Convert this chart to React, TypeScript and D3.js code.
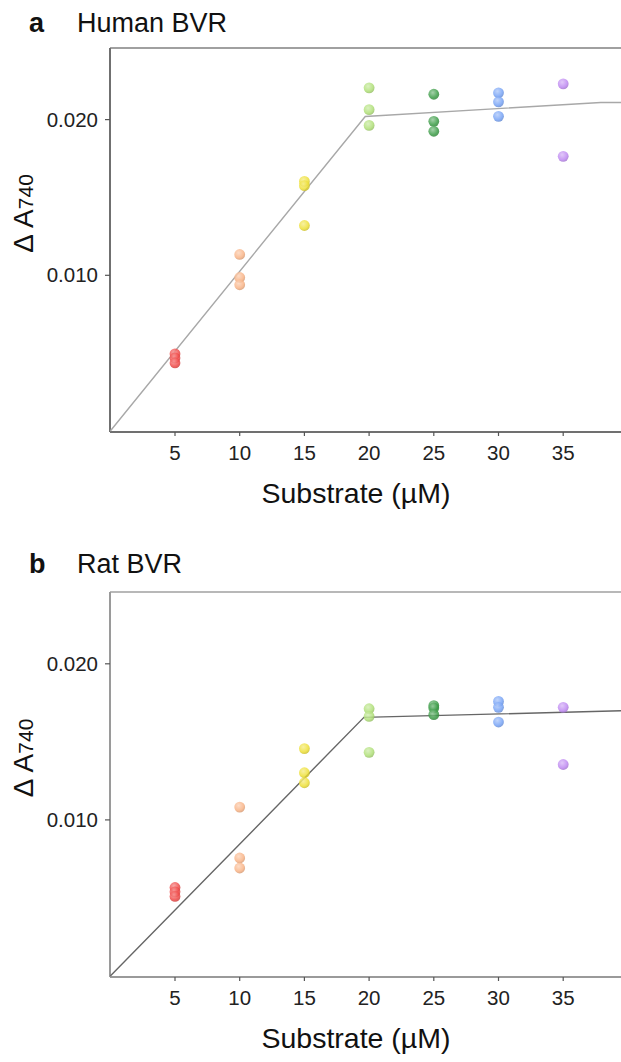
import React from "react";
import * as d3 from "d3";

const substrate = [5, 10, 15, 20, 25, 30, 35];
const xTicks = [5, 10, 15, 20, 25, 30, 35];
const yTicks = [0.01, 0.02];
const dotColors = ["#f04a48", "#f9b487", "#eee038", "#b0e078", "#3d9d48", "#78a4f6", "#bf8af2"];

const humanValues = [
  [0.00495, 0.00469, 0.00437],
  [0.01134, 0.00986, 0.00939],
  [0.01603, 0.01576, 0.0132],
  [0.02204, 0.02064, 0.01963],
  [0.02163, 0.01989, 0.01925],
  [0.02172, 0.02114, 0.02021],
  [0.0223, 0.01764],
];
const ratValues = [
  [0.00567, 0.00539, 0.0051],
  [0.01082, 0.00756, 0.00692],
  [0.01457, 0.01302, 0.01238],
  [0.01712, 0.01663, 0.01433],
  [0.01732, 0.01717, 0.01674],
  [0.01759, 0.01721, 0.01627],
  [0.01721, 0.01355],
];
const humanFit: [number, number][] = [[0, 0], [19.7, 0.0202], [37.9, 0.0211], [40, 0.0211]];
const ratFit: [number, number][] = [[0, 0], [19.6, 0.01657], [40, 0.017]];

const FONT = "'Liberation Sans', Arial, Helvetica, sans-serif";

type PanelProps = {
  letter: string;
  title: string;
  values: number[][];
  fit: [number, number][];
  top: number;
  bottom: number;
  titleY: number;
  lineColor: string;
  frameColor: string;
  topColor: string;
};

function Panel({ letter, title, values, fit, top, bottom, titleY, lineColor, frameColor, topColor }: PanelProps) {
  const x = d3.scaleLinear().domain([0, 40]).range([110.3, 110.3 + 40 * 12.94]);
  const y = d3.scaleLinear().domain([0, 0.0246]).range([bottom, top]);
  const line = d3
    .line<[number, number]>()
    .x((d) => x(d[0]))
    .y((d) => y(d[1]));
  const left = 110;
  const axisY = bottom + 1;
  const midY = (top + bottom) / 2;
  return (
    <g>
      <text x={29} y={titleY} fontFamily={FONT} fontWeight="bold" fontSize={27} fill="#111">
        {letter}
      </text>
      <text x={77} y={titleY} fontFamily={FONT} fontSize={27} fill="#111">
        {title}
      </text>
      <line x1={left} x2={640} y1={top} y2={top} stroke={topColor} strokeWidth={1.6} />
      <line x1={left} x2={left} y1={top} y2={axisY} stroke={frameColor} strokeWidth={2} />
      <line x1={left} x2={640} y1={axisY} y2={axisY} stroke={frameColor} strokeWidth={2} />
      {yTicks.map((t) => (
        <g key={t}>
          <line x1={left - 5} x2={left} y1={y(t)} y2={y(t)} stroke="#555" strokeWidth={1.2} />
          <text x={98} y={y(t) + 7} textAnchor="end" fontFamily={FONT} fontSize={20.5} fill="#222">
            {d3.format(".3f")(t)}
          </text>
        </g>
      ))}
      {xTicks.map((t) => (
        <g key={t}>
          <line x1={x(t)} x2={x(t)} y1={axisY} y2={axisY + 4} stroke="#555" strokeWidth={1.2} />
          <text x={x(t)} y={axisY + 28} textAnchor="middle" fontFamily={FONT} fontSize={20.5} fill="#222">
            {t}
          </text>
        </g>
      ))}
      <text x={356} y={axisY + 71} textAnchor="middle" fontFamily={FONT} fontSize={28.5} fill="#111">
        Substrate (µM)
      </text>
      <text
        transform={`translate(33, ${midY - 26}) rotate(-90)`}
        textAnchor="middle"
        fontFamily={FONT}
        fontSize={28}
        fill="#111"
      >
        <tspan>Δ A</tspan>
        <tspan fontSize={21}>740</tspan>
      </text>
      <path d={line(fit) || ""} fill="none" stroke={lineColor} strokeWidth={1.4} />
      {values.map((vals, i) =>
        vals.map((v, j) => (
          <circle
            key={`${i}-${j}`}
            cx={x(substrate[i])}
            cy={y(v)}
            r={5.4}
            fill={`url(#grad${i})`}
            opacity={0.85}
          />
        ))
      )}
    </g>
  );
}

export default function App() {
  return (
    <svg
      width={621}
      height={1062}
      style={{ position: "absolute", left: 0, top: 0, background: "#fff" }}
    >
      <defs>
        {dotColors.map((c, i) => (
          <radialGradient key={i} id={`grad${i}`} cx="40%" cy="35%" r="65%">
            <stop offset="0%" stopColor={d3.interpolateRgb(c, "#ffffff")(0.45)} />
            <stop offset="70%" stopColor={c} />
            <stop offset="100%" stopColor={d3.color(c)!.darker(0.4).formatHex()} />
          </radialGradient>
        ))}
      </defs>
      <rect width={621} height={1062} fill="#fff" />
      <Panel
        letter="a"
        title="Human BVR"
        values={humanValues}
        fit={humanFit}
        top={48}
        bottom={431}
        titleY={32}
        lineColor="#a8a8a8"
        frameColor="#707070"
        topColor="#808080"
      />
      <Panel
        letter="b"
        title="Rat BVR"
        values={ratValues}
        fit={ratFit}
        top={592}
        bottom={976}
        titleY={573}
        lineColor="#666666"
        frameColor="#9a9a9a"
        topColor="#a0a0a0"
      />
    </svg>
  );
}
